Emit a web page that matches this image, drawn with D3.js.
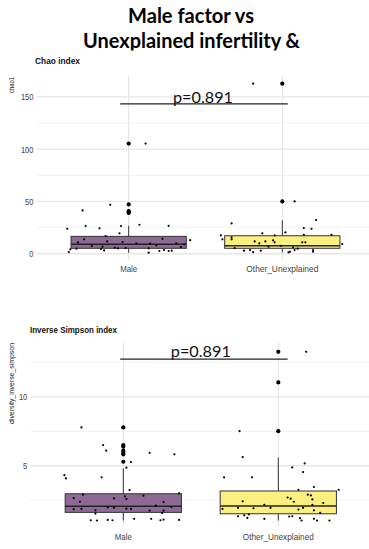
<!DOCTYPE html>
<html>
<head>
<meta charset="utf-8">
<script src="https://cdn.jsdelivr.net/npm/d3@7"></script>
<style>
  body { margin: 0; background: #fff; }
  svg { display: block; }
</style>
</head>
<body>
<svg id="chart" width="369" height="549"></svg>
<script>
(function() {

// groups on the x axis
var groups = ["Male", "Other_Unexplained"];
var fills = ["#8d6a96", "#fbef7f"];

// Chao index: box stats [lower whisker, q1, median, q3, upper whisker]
var chaoBox = [[1.0, 5.2, 9.0, 16.6, 26.7], [1.3, 5.2, 7.6, 17.2, 32.0]];
var chaoOutliers = [[105.4, 47.2, 40.8, 39.6, 39.0], [162.7, 50.0]];
// jittered points: [x offset in group units, value]
var chaoMale = [[0.11,105.4],[-0.30,41.4],[-0.12,46.8],[-0.40,23.9],[-0.28,26.5],[-0.19,24.3],
  [-0.05,26.5],[0.07,27.7],[0.26,26.7],[-0.06,19.5],[-0.15,16.9],[-0.29,13.8],[-0.33,10.9],
  [-0.14,11.8],[-0.04,11.2],[0.22,14.3],[0.05,9.9],[0.14,9.6],[0.18,8.0],[0.31,9.9],
  [-0.24,7.4],[-0.17,6.7],[-0.09,5.7],[-0.02,5.4],[-0.38,4.2],[-0.34,4.8],[-0.18,4.5],
  [-0.16,3.2],[-0.07,5.2],[0.13,5.2],[0.23,3.5],[0.34,6.4],[0.36,9.0],[-0.39,1.6],
  [0.13,1.0],[0.20,2.6],[0.26,2.6],[0.28,2.9],[0.40,13.0]];
var chaoOther = [[-0.19,162.7],[0.08,50.0],[-0.33,29.0],[0.22,32.2],[0.14,24.5],[0.19,23.9],
  [-0.13,19.5],[-0.05,17.6],[0.02,20.4],[0.14,18.1],[0.32,18.1],[-0.40,17.6],[-0.39,13.8],
  [-0.33,15.7],[-0.33,13.8],[-0.18,11.8],[-0.15,9.9],[-0.11,11.8],[-0.06,12.8],[-0.05,10.9],
  [0.13,10.9],[0.15,10.9],[-0.25,2.9],[-0.19,1.6],[-0.14,2.9],[0.05,1.9],[0.10,4.8],
  [0.20,3.5],[-0.31,5.4],[-0.09,6.7],[0.07,6.1],[-0.01,7.6],[0.39,9.3],[0.04,1.3],
  [-0.21,3.5],[0.20,1.9],[0.08,3.5]];

// Inverse Simpson index
var invBox = [[1.03, 1.62, 2.06, 2.97, 4.81], [1.03, 1.52, 2.08, 3.17, 5.6]];
var invOutliers = [[7.78, 6.5, 6.38, 6.09, 5.94, 5.83, 5.29], [13.26, 11.04, 7.51]];
var invMale = [[-0.27,7.78],[-0.13,6.50],[-0.11,6.09],[0.17,5.94],[0.33,5.83],[0.05,5.27],
  [0.02,4.86],[-0.38,4.32],[-0.37,4.08],[-0.14,4.16],[0.04,3.24],[-0.26,2.90],[0.36,3.0],
  [0.13,2.83],[-0.32,2.66],[-0.06,2.64],[0.01,2.78],[0.02,2.59],[-0.28,2.39],[0.26,2.37],
  [-0.32,1.85],[-0.27,1.87],[-0.10,1.99],[-0.06,1.96],[0.02,1.89],[0.05,1.87],[0.21,2.11],
  [0.17,1.75],[0.26,1.75],[0.31,2.01],[0.25,1.58],[-0.18,1.77],[-0.18,1.53],[-0.21,1.05],
  [-0.17,1.03],[-0.10,1.07],[-0.07,1.05],[0.07,1.15],[0.18,1.15],[0.24,1.05],[0.26,1.10],
  [0.36,1.07]];
var invOther = [[0.18,13.26],[0.00,11.04],[-0.25,7.51],[-0.23,5.63],[0.17,5.17],[0.09,4.88],
  [0.16,4.54],[-0.35,4.16],[-0.17,4.16],[0.23,3.46],[0.39,3.26],[0.13,3.26],[0.19,2.90],
  [0.21,2.85],[0.22,2.56],[0.06,2.70],[0.08,2.61],[0.10,2.39],[-0.23,2.42],[-0.09,2.17],
  [0.22,2.17],[0.29,2.30],[-0.26,1.95],[-0.16,1.92],[-0.05,1.95],[-0.36,1.87],[0.13,1.82],
  [0.16,1.95],[0.23,1.77],[0.27,1.58],[-0.26,1.34],[-0.22,1.41],[-0.20,1.22],[-0.19,1.48],
  [-0.09,1.15],[0.07,1.32],[0.09,1.34],[0.14,1.20],[0.15,1.03],[0.23,1.15],[0.25,1.03],
  [0.33,1.03]];

var pLabel = "p=0.891";

var svg = d3.select("#chart");
svg.append("rect").attr("width", 369).attr("height", 549).attr("fill", "#fff");

// Title
var title = svg.append("g")
  .attr("font-family", "Lato, 'Open Sans', sans-serif")
  .attr("font-weight", "bold")
  .attr("font-size", "21px")
  .attr("text-anchor", "middle")
  .attr("fill", "#000");
title.append("text").attr("x", 191).attr("y", 22.5)
  .attr("textLength", 126).attr("lengthAdjust", "spacingAndGlyphs")
  .text("Male factor vs");
title.append("text").attr("x", 191.5).attr("y", 47.5)
  .attr("textLength", 217).attr("lengthAdjust", "spacingAndGlyphs")
  .text("Unexplained infertility &");

// the pasted chart image hides the bottom of the second title line
svg.append("rect").attr("x", 0).attr("y", 50.5).attr("width", 369).attr("height", 498.5).attr("fill", "#fff");

function drawPanel(cfg) {
  var g = svg.append("g");

  var x = d3.scalePoint().domain(groups).range(cfg.xRange).padding(0.6);
  var step = x.step();
  var y = d3.scaleLinear().domain(cfg.yDomain).range(cfg.yRange);
  var top = cfg.yRange[1], bottom = cfg.yRange[0];

  // minor grid
  g.selectAll(".minor").data(cfg.minor).enter().append("line")
    .attr("x1", cfg.xRange[0]).attr("x2", cfg.xRange[1])
    .attr("y1", d => y(d)).attr("y2", d => y(d))
    .attr("stroke", "#f3f3f3").attr("stroke-width", 1);
  // major grid
  g.selectAll(".major").data(cfg.ticks).enter().append("line")
    .attr("x1", cfg.xRange[0]).attr("x2", cfg.xRange[1])
    .attr("y1", d => y(d)).attr("y2", d => y(d))
    .attr("stroke", "#e6e6e6").attr("stroke-width", 1.3);
  g.selectAll(".vgrid").data(groups).enter().append("line")
    .attr("x1", d => x(d)).attr("x2", d => x(d))
    .attr("y1", top).attr("y2", bottom)
    .attr("stroke", "#e3e3e3").attr("stroke-width", 1);

  // y axis
  var ya = g.append("g")
    .attr("transform", "translate(" + (cfg.xRange[0] - 3) + ",0)")
    .call(d3.axisLeft(y).tickValues(cfg.ticks).tickSize(0).tickPadding(0));
  ya.select(".domain").remove();
  ya.selectAll("text").attr("font-family", "'Liberation Sans', Arial, sans-serif")
    .attr("font-size", "9.5px").attr("fill", "#444")
    .attr("textLength", d => String(d).length * 4.2).attr("lengthAdjust", "spacingAndGlyphs");

  // x labels
  g.selectAll(".xlab").data(groups).enter().append("text")
    .attr("x", d => x(d)).attr("y", cfg.xLabelY)
    .attr("text-anchor", "middle")
    .attr("font-family", "'Liberation Sans', Arial, sans-serif")
    .attr("font-size", "9.5px").attr("fill", "#444")
    .attr("textLength", (d, i) => cfg.xLabelLen[i]).attr("lengthAdjust", "spacingAndGlyphs")
    .text(d => d);

  // axis title
  g.append("text")
    .attr("transform", "translate(" + cfg.yTitlePos[0] + "," + cfg.yTitlePos[1] + ") rotate(-90)")
    .attr("text-anchor", "middle")
    .attr("font-family", "'Liberation Sans', Arial, sans-serif")
    .attr("font-size", "6.8px").attr("fill", "#222")
    .attr("textLength", cfg.yTitleLen).attr("lengthAdjust", "spacingAndGlyphs")
    .text(cfg.yTitle);

  // panel title
  g.append("text")
    .attr("x", cfg.titlePos[0]).attr("y", cfg.titlePos[1])
    .attr("font-family", "'Liberation Sans', Arial, sans-serif")
    .attr("font-weight", "bold").attr("font-size", "9px").attr("fill", "#111")
    .attr("textLength", cfg.titleLen).attr("lengthAdjust", "spacingAndGlyphs")
    .text(cfg.title);

  // boxes
  var bw = step * 0.75;
  var boxes = g.selectAll(".box").data(cfg.box).enter().append("g");
  boxes.append("line")
    .attr("x1", (d, i) => x(groups[i])).attr("x2", (d, i) => x(groups[i]))
    .attr("y1", d => y(d[3])).attr("y2", d => y(d[4]))
    .attr("stroke", "#333").attr("stroke-width", 1);
  boxes.append("line")
    .attr("x1", (d, i) => x(groups[i])).attr("x2", (d, i) => x(groups[i]))
    .attr("y1", d => y(d[1])).attr("y2", d => y(d[0]))
    .attr("stroke", "#333").attr("stroke-width", 1);
  boxes.append("rect")
    .attr("x", (d, i) => x(groups[i]) - bw / 2).attr("width", bw)
    .attr("y", d => y(d[3])).attr("height", d => y(d[1]) - y(d[3]))
    .attr("fill", (d, i) => fills[i]).attr("stroke", "#333").attr("stroke-width", 1);
  boxes.append("line")
    .attr("x1", (d, i) => x(groups[i]) - bw / 2).attr("x2", (d, i) => x(groups[i]) + bw / 2)
    .attr("y1", d => y(d[2])).attr("y2", d => y(d[2]))
    .attr("stroke", "#222").attr("stroke-width", 1.4);

  // outliers
  cfg.outliers.forEach(function(vals, i) {
    g.selectAll(".out" + i).data(vals).enter().append("circle")
      .attr("cx", x(groups[i])).attr("cy", d => y(d))
      .attr("r", 2.1).attr("fill", "#000");
  });

  // jittered points
  cfg.points.forEach(function(pts, i) {
    g.selectAll(".pt" + i).data(pts).enter().append("circle")
      .attr("cx", d => x(groups[i]) + d[0] * step).attr("cy", d => y(d[1]))
      .attr("r", 1.1).attr("fill", "#000");
  });

  // significance bracket
  g.append("line")
    .attr("x1", x(groups[0]) + cfg.bracket[0] * step)
    .attr("x2", x(groups[1]) + cfg.bracket[1] * step)
    .attr("y1", y(cfg.bracket[2])).attr("y2", y(cfg.bracket[2]))
    .attr("stroke", "#222").attr("stroke-width", 1.3);
  g.append("text")
    .attr("x", (x(groups[0]) + x(groups[1])) / 2 + cfg.pDx)
    .attr("y", y(cfg.bracket[2]) + cfg.pDy)
    .attr("text-anchor", "middle")
    .attr("font-family", "Lato, 'Open Sans', sans-serif")
    .attr("font-size", "15px").attr("fill", "#111")
    .attr("textLength", 60).attr("lengthAdjust", "spacingAndGlyphs")
    .text(pLabel);
}

drawPanel({
  xRange: [36.5, 374.5], yDomain: [-6, 170], yRange: [260, 76],
  ticks: [0, 50, 100, 150], minor: [25, 75, 125],
  box: chaoBox, outliers: chaoOutliers, points: [chaoMale, chaoOther],
  bracket: [-0.055, 0.035, 143.3], pDx: -2.5, pDy: -0.7,
  xLabelY: 271.5, xLabelLen: [17, 72],
  yTitle: "chao1", yTitlePos: [14, 85], yTitleLen: 16,
  title: "Chao index", titlePos: [35, 64], titleLen: 45
});

drawPanel({
  xRange: [30.3, 371.3], yDomain: [0.56, 13.9], yRange: [527, 343],
  ticks: [5, 10], minor: [2.5, 7.5, 12.5],
  box: invBox, outliers: invOutliers, points: [invMale, invOther],
  bracket: [-0.02, 0.06, 12.73], pDx: 0, pDy: -2.3,
  xLabelY: 539.5, xLabelLen: [17, 71],
  yTitle: "diversity_inverse_simpson", yTitlePos: [14, 383.5], yTitleLen: 81,
  title: "Inverse Simpson index", titlePos: [30, 332.5], titleLen: 87
});

})();
</script>
</body>
</html>
